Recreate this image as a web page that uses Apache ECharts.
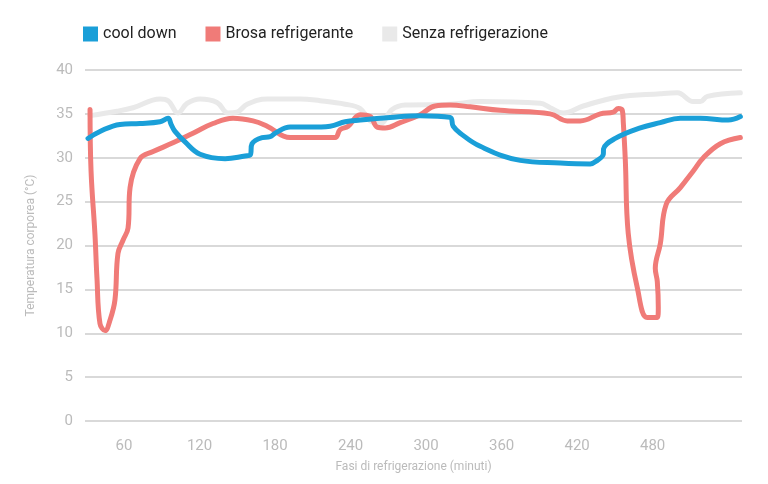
<!DOCTYPE html>
<html><head><meta charset="utf-8">
<script src="https://cdn.jsdelivr.net/npm/echarts@6/dist/echarts.min.js"></script>
<style>html,body{margin:0;padding:0;background:#fff}#c{width:768px;height:484px}</style>
</head><body><div id="c"></div>
<script>
const seriesNames = ['cool down','Brosa refrigerante','Senza refrigerazione'];
const xTicks = [60,120,180,240,300,360,420,480];
const coolDown = [[31.4,32.2],[40.9,33.0],[56.8,33.8],[72.7,33.9],[88.6,34.1],[95,34.5],[97.4,33.8],[100.5,33.0],[108.5,31.8],[120.4,30.4],[140.3,29.9],[156.2,30.2],[160.2,30.3],[161.7,31.6],[169.7,32.3],[176.1,32.4],[180,32.8],[192,33.5],[207.9,33.5],[223.8,33.6],[235.7,34.1],[247.6,34.3],[271.4,34.6],[295.3,34.8],[319.1,34.6],[321.5,33.6],[327.1,32.8],[343,31.3],[374.8,29.7],[406.6,29.4],[430.4,29.3],[436,29.7],[440.8,30.4],[441,31],[450.3,32.2],[470.2,33.4],[486.1,34.0],[502,34.5],[517.9,34.5],[540.1,34.3],[549.7,34.7]];
const brosa = [[33.0,35.5],[33.8,28.5],[36.9,21.3],[38.5,16.3],[40.9,11.1],[44.9,10.3],[48.9,11.5],[52.8,13.8],[55.2,19.1],[59.2,20.6],[63.2,22.0],[64.8,26.6],[72.7,29.9],[83.1,30.7],[98.9,31.7],[114.8,32.8],[130.7,33.9],[146.6,34.5],[162.5,34.2],[173.7,33.6],[192,32.3],[215.8,32.3],[227.7,32.3],[231.7,33.2],[238.1,33.6],[247.6,34.9],[255.6,34.7],[261.1,33.5],[267.5,33.4],[279.4,34.0],[295.3,34.9],[307.2,35.9],[319.1,36.0],[335,35.8],[358.9,35.4],[398.6,35.0],[412.1,34.2],[422.5,34.2],[438.4,35.0],[448.7,35.2],[452.7,35.6],[455.9,35.4],[456.7,34.0],[458.3,29.7],[460.6,21.4],[467.8,15.2],[475.7,11.8],[483.7,11.8],[484.5,12.9],[483.7,15.9],[482.1,17.4],[486.1,20.2],[490.8,24.7],[502,26.6],[512.3,28.5],[520.3,30.0],[533.8,31.6],[549.7,32.3]];
const senza = [[33.0,34.8],[54.4,35.3],[67.2,35.7],[88.6,36.7],[95,36.5],[102.9,35.1],[110.1,36.2],[120.4,36.7],[133.9,36.3],[142.7,35.1],[149.8,35.2],[157.8,36.1],[173.7,36.7],[199.9,36.7],[215.8,36.5],[235.7,36.1],[247.6,35.6],[255.6,34.2],[263.5,33.9],[273,35.5],[283.4,36.0],[319.1,36.1],[343,36.4],[390.7,36.2],[398.6,35.7],[409,35.1],[424.9,35.9],[451.9,36.9],[486.1,37.3],[499.6,37.4],[512.3,36.4],[517.9,36.4],[523.5,37.0],[549.7,37.4]];
const colors = ['#1a9fd8','#f07b78','#e9e9e9'];
const chart = echarts.init(document.getElementById('c'));
const mk = (name, data, c, z) => ({name, type:'line', data, smooth:0.4, showSymbol:false, z,
  lineStyle:{width:5, color:c, cap:'round', join:'round'}, itemStyle:{color:c}});
chart.setOption({
  animation:false,
  legend:{top:21, left:78, itemWidth:15, itemHeight:15, itemGap:29, icon:'rect',
    textStyle:{fontFamily:'Roboto', fontSize:16, color:'#222'}},
  grid:{left:85, right:26, top:70, bottom:63},
  xAxis:{type:'value', min:29, max:551, name:'Fasi di refrigerazione (minuti)', nameLocation:'middle', nameGap:40,
    nameTextStyle:{fontFamily:'Roboto', fontSize:12, color:'#bbb'},
    axisLine:{show:false}, axisTick:{show:false}, splitLine:{show:false},
    axisLabel:{customValues:xTicks, fontFamily:'Roboto', fontSize:15, color:'#bbb', margin:18}},
  yAxis:{type:'value', min:0, max:40, interval:5, name:'Temperatura corporea (°C)', nameLocation:'middle', nameGap:48,
    nameTextStyle:{fontFamily:'Roboto', fontSize:12, color:'#bbb'},
    axisLine:{show:false}, axisTick:{show:false},
    splitLine:{lineStyle:{color:'#ccc', width:1.5}},
    axisLabel:{fontFamily:'Roboto', fontSize:15, color:'#bbb', margin:12}},
  series:[mk(seriesNames[0], coolDown, colors[0], 3), mk(seriesNames[1], brosa, colors[1], 2), mk(seriesNames[2], senza, colors[2], 1)]
});
</script></body></html>
